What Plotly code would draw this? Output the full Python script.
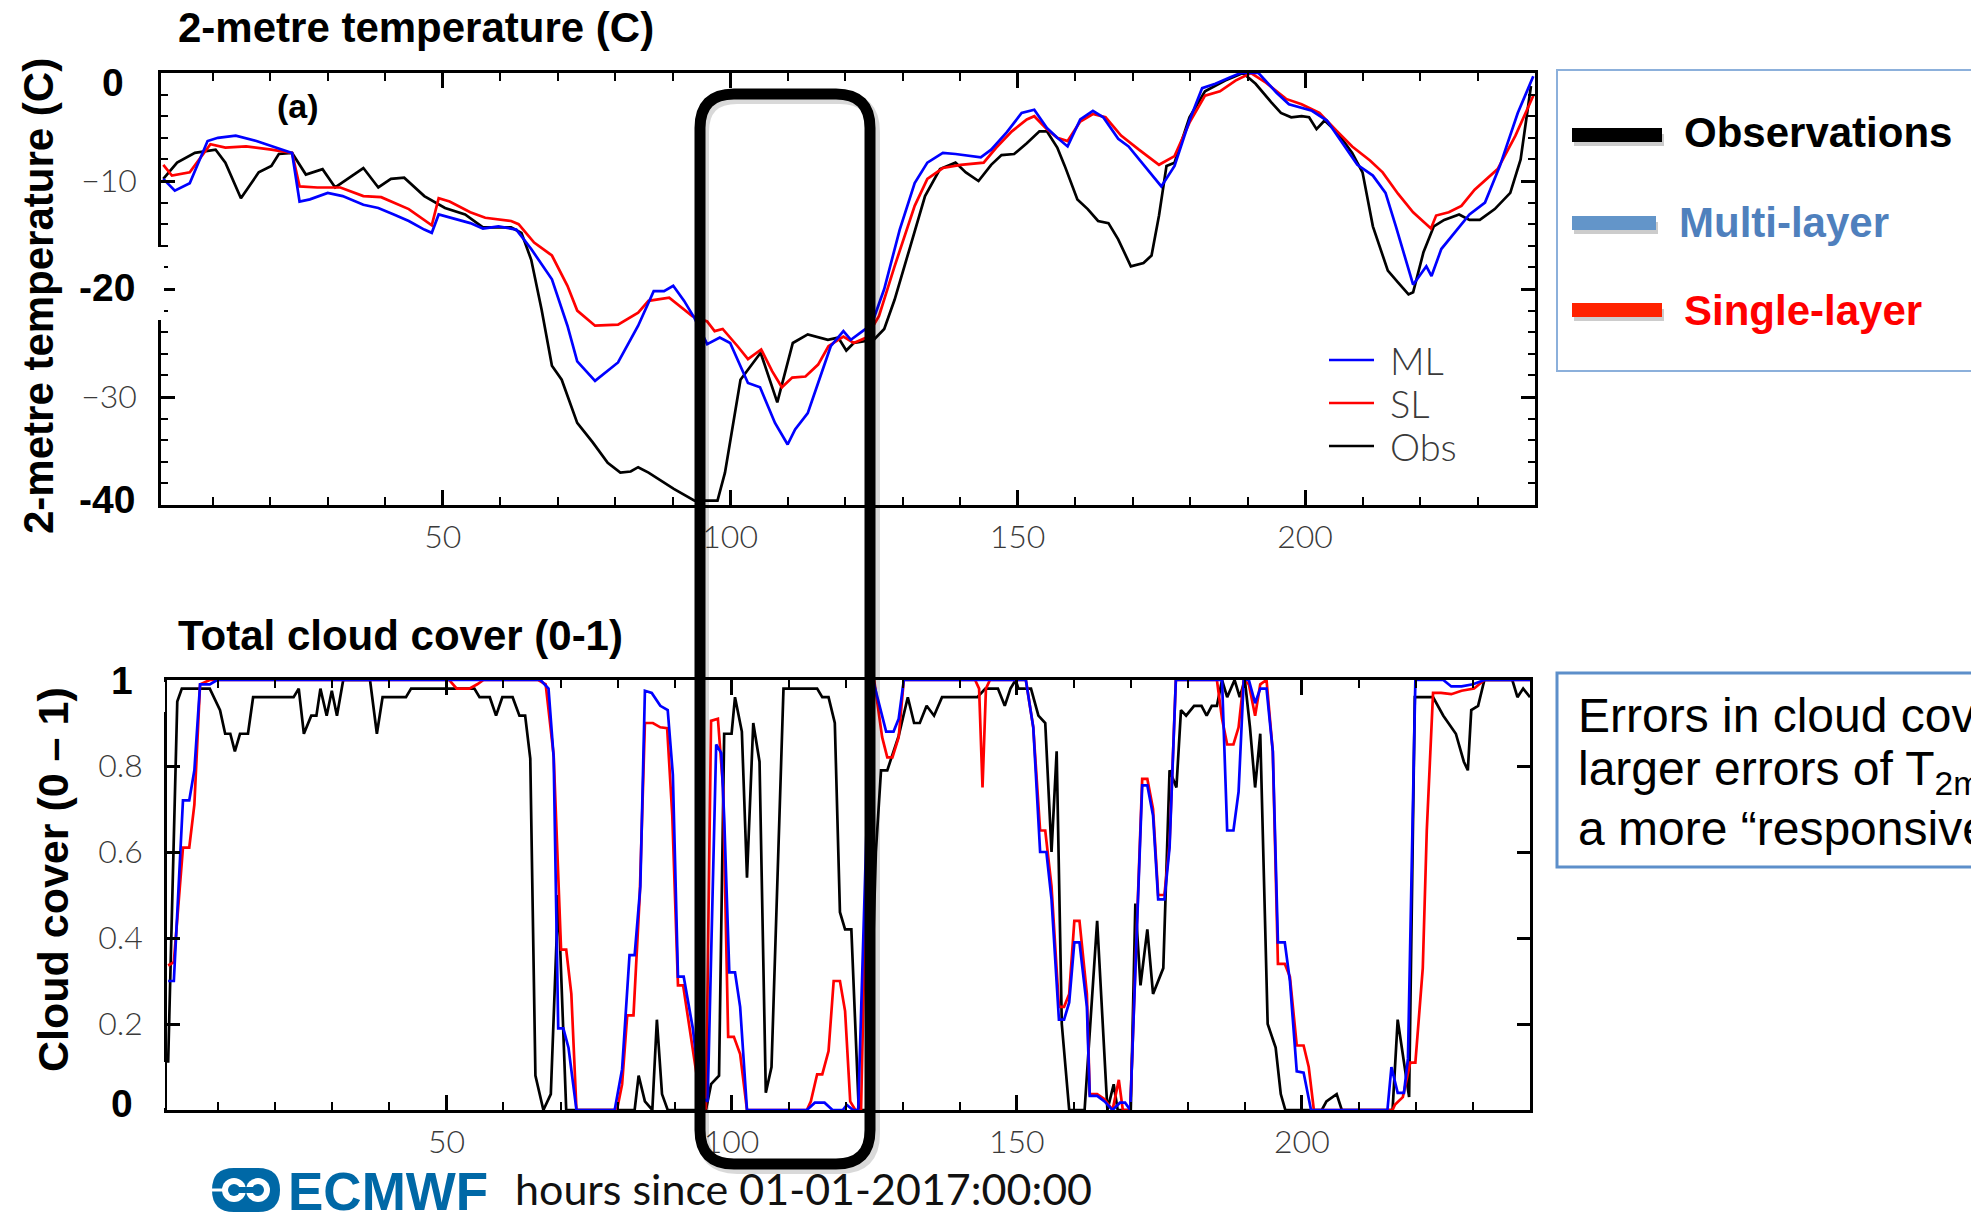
import plotly.graph_objects as go

W, H = 1971, 1213

# ---------------- data: 2-metre temperature (C) ----------------
t2m_obs_hours = [1.4, 3.8, 6.9, 10.5, 12.2, 14.9, 18, 20.2, 21.5, 23.8, 26.2, 29.1, 31.3, 36.2, 38.8, 41, 43.3, 46.8,
                 50.4, 53.9, 57, 61.9, 63.7, 65.4, 67.2, 69, 70.7, 73.4, 76.1, 78.7, 80.9, 82.7, 84, 85.8, 90.2, 93.8,
                 97.8, 99.1, 101.8, 105.3, 108.2, 110.9, 113.5, 117, 118.8, 120.2, 121.5, 125, 126.8, 128.6, 131.2,
                 133.9, 136.5, 139.2, 141, 143.2, 145.4, 147.2, 149.4, 151.6, 153.8, 155.1, 156.9, 158.2, 160.4, 162.2,
                 164, 165.8, 167.5, 169.7, 171.9, 173.3, 174.6, 175.9, 177.3, 179.9, 182.6, 186.1, 189.2, 191.4, 194.1,
                 195.8, 197.6, 199.4, 200.7, 202, 203.4, 205.6, 208.2, 210, 211.8, 214.4, 216.2, 218, 218.8, 220.6,
                 222.4, 224.2, 226.8, 228.6, 230.4, 233, 235.7, 237.5, 239.3]
t2m_obs = [-9.8, -8.3, -7.4, -7.1, -8.3, -11.6, -9.2, -8.6, -7.5, -7.4, -9.4, -8.9, -10.6, -8.8, -10.6, -9.8, -9.7,
           -11.4, -12.5, -13.1, -14.3, -14.3, -14.8, -17.3, -21.9, -27.1, -28.4, -32.4, -34.2, -36.1, -37, -36.9,
           -36.5, -37, -38.5, -39.6, -39.6, -37, -28.4, -25.9, -30.5, -25, -24.2, -24.7, -24.5, -25.7, -25, -24.7,
           -23.7, -21, -16.3, -11.4, -8.9, -8.3, -9.2, -10, -8.5, -7.6, -7.5, -6.5, -5.4, -5.4, -6.9, -8.6, -11.7,
           -12.6, -13.7, -13.9, -15.4, -17.9, -17.6, -16.9, -13.2, -8.6, -8.3, -4.1, -1.7, -0.7, 0, -1, -2.7, -3.7,
           -4.1, -4, -4.1, -5.2, -4.4, -5.5, -7.4, -9.2, -14.2, -18.3, -19.4, -20.5, -20.3, -16.6, -14.2, -13.6,
           -13.1, -13.6, -13.6, -12.6, -11.1, -8, -1.2]

t2m_ml_hours = [1.4, 3.4, 6, 9.1, 10.9, 14, 17.6, 21.1, 23.8, 25.1, 26.9, 30, 32.6, 36.2, 38.8, 41.5, 44.1, 46.8, 48.1,
                49.3, 51.2, 54.8, 57, 59.7, 62.8, 65.4, 69, 71.7, 73.4, 76.5, 80.5, 84, 86.7, 88.5, 90.1, 92, 93.8, 96,
                98.2, 100, 103.1, 105.2, 107.8, 110, 111.3, 113.5, 115.3, 117.5, 119.7, 121, 122.8, 124.6, 126.8,
                129.5, 132.1, 134.3, 137, 139.2, 143.6, 145.4, 148.1, 150.7, 152.9, 155.1, 156.9, 158.7, 160.9, 163.1,
                164.9, 167.5, 169.3, 172, 175, 177.3, 179.9, 182.1, 184.4, 187, 188.8, 191.9, 195, 197.2, 199.4, 201.2,
                203.8, 206.5, 209.1, 211.8, 214, 215.8, 217.1, 218.8, 221.1, 222, 223.7, 226, 228.6, 231.3, 233.9,
                237, 239.7]
t2m_ml = [-9.8, -10.9, -10.2, -6.3, -6, -5.8, -6.3, -6.9, -7.4, -11.9, -11.7, -11.1, -11.4, -12.2, -12.5, -13.1,
          -13.7, -14.5, -14.8, -13.1, -13.4, -13.9, -14.4, -14.2, -14.5, -16.3, -19.1, -23.4, -26.7, -28.5, -26.8,
          -23.4, -20.2, -20.2, -19.7, -21.1, -22.7, -25.1, -24.5, -25, -28.7, -29.1, -32.4, -34.4, -33, -31.5, -28.7,
          -25.3, -23.9, -24.7, -24, -23.3, -20, -14.5, -10.2, -8.3, -7.4, -7.5, -7.8, -7.1, -5.5, -3.7, -3.4, -5.1,
          -6, -6.8, -4.3, -3.5, -4.1, -6.1, -6.8, -8.6, -10.5, -8.6, -4.4, -1.4, -1, -0.4, 0, 0, -1.8, -2.9, -3.2,
          -3.5, -4.4, -6.5, -8.5, -9.5, -11.1, -14.2, -16.6, -19.6, -17.9, -18.8, -16.3, -14.8, -13.1, -12, -8.6,
          -3.7, -0.3]

t2m_sl_hours = [1.4, 2.9, 6, 9.6, 12.2, 15.8, 20.2, 23.8, 25.1, 28.2, 32.2, 36.2, 39.3, 44.1, 48.1, 49.3, 51.2, 54.8,
                57.4, 61.9, 63.2, 65.9, 69, 71.7, 73.4, 76.5, 80.5, 84, 85.8, 89.4, 93.4, 96, 97.3, 98.7, 101.3, 103.1,
                105.4, 107.3, 109, 110.8, 113.1, 115.3, 117.1, 119.7, 121.5, 123.7, 125.9, 128.6, 132.1, 134.3, 137,
                140.1, 144.1, 146.3, 149, 151.6, 152.9, 155.1, 156.9, 158.7, 160.9, 163.1, 165.3, 168, 171.1, 174.6,
                177.3, 179.9, 182.6, 185.2, 187.9, 190.6, 193.2, 196.7, 199.4, 202.5, 205.6, 208.2, 211.3, 213.5,
                216.2, 218.8, 221.9, 222.8, 225, 227.2, 229.5, 233.5, 236.6, 239.7]
t2m_sl = [-8.5, -9.5, -9.2, -6.6, -6.9, -6.8, -7.1, -7.4, -10.5, -10.6, -10.6, -11.4, -11.5, -12.6, -14.1, -11.6,
          -11.9, -12.9, -13.4, -13.7, -14, -15.7, -16.9, -19.7, -22, -23.4, -23.3, -22.2, -21.1, -20.8, -22.5, -23,
          -23.9, -23.7, -25.3, -26.5, -25.6, -27.6, -29.1, -28.2, -28.1, -27, -25.3, -24.4, -25, -24.5, -22.5, -17.9,
          -12.3, -9.8, -8.8, -8.5, -8.3, -6.9, -5.4, -4.3, -4, -5.2, -6, -6.3, -4.5, -3.8, -4.1, -5.8, -7.1, -8.5,
          -7.7, -4.6, -2.1, -1.7, -0.7, 0, -0.9, -2.4, -2.9, -3.7, -5.4, -6.8, -8.1, -9.2, -11.2, -12.9, -14.4,
          -13.2, -12.9, -12.3, -10.8, -8.9, -5.8, -2.1]

# ---------------- data: total cloud cover (0-1) ----------------
tcc_obs_hours = [1.2, 2.8, 3.6, 8.5, 10.3, 11.2, 12.1, 12.9, 13.8, 15.2, 16.1, 23.2, 24.1, 25, 26.3, 27.2, 27.9, 29,
                 29.9, 30.8, 31.9, 36.6, 37.8, 38.8, 42.9, 43.8, 54.9, 55.8, 57.6, 58.7, 59.8, 61.6, 62.8, 63.8, 64.7,
                 65.6, 67, 68.3, 69.6, 71, 83, 83.7, 84.8, 86.1, 86.9, 87.8, 88.8, 95.5, 96.4, 97.8, 98.7, 100, 100.6,
                 101.8, 102.7, 103.8, 104.9, 106, 107, 109.1, 115, 115.9, 117, 118.1, 119, 119.9, 121, 122.3, 124,
                 125.3, 126.2, 127.3, 129.3, 130.9, 132, 133, 134.2, 135.5, 136.9, 143.1, 144.5, 146.7, 147.9, 148.9,
                 149.8, 150.3, 152.5, 153.8, 155, 156.1, 157, 157.9, 159.2, 161.9, 164.1, 165.9, 167, 167.7, 170, 170.8,
                 171.7, 172.9, 173.9, 175.7, 176.8, 178, 178.8, 179.7, 181.1, 182.4, 183.3, 184.2, 185.1, 186, 186.9,
                 188.2, 189.1, 190, 190.9, 191.8, 192.7, 194, 195.4, 196.3, 197.1, 203.5, 204.3, 206.1, 207, 215.9,
                 216.8, 218.1, 218.8, 219.8, 223, 224.8, 227, 228.4, 229.1, 229.7, 230.9, 232, 236.9, 237.8, 238.8,
                 240]
tcc_obs = [0.11, 0.95, 0.98, 0.98, 0.93, 0.875, 0.875, 0.834, 0.875, 0.875, 0.96, 0.96, 0.98, 0.875, 0.917, 0.917,
           0.98, 0.917, 0.975, 0.917, 1, 1, 0.875, 0.96, 0.96, 0.98, 0.98, 0.96, 0.96, 0.917, 0.96, 0.96, 0.917, 0.917,
           0.817, 0.08, 0, 0.037, 0.5, 0, 0, 0.08, 0.02, 0, 0.21, 0.037, 0, 0, 0.06, 0.08, 0.875, 0.875, 0.96, 0.88,
           0.54, 0.9, 0.81, 0.04, 0.1, 0.98, 0.98, 0.96, 0.96, 0.9, 0.46, 0.42, 0.42, 0, 0, 0.6, 0.79, 0.79, 0.87,
           0.96, 0.9, 0.9, 0.94, 0.917, 0.96, 0.96, 0.98, 0.98, 0.94, 0.98, 1, 0.98, 0.98, 0.917, 0.9, 0.6, 0.834,
           0.2, 0, 0, 0.44, 0, 0.06, 0, 0, 0.48, 0.29, 0.42, 0.27, 0.33, 0.79, 0.75, 0.93, 0.917, 0.94, 0.94, 0.917,
           0.94, 0.94, 1, 0.96, 1, 0.96, 1, 0.89, 0.75, 0.875, 0.2, 0.145, 0.037, 0, 0, 0.02, 0.037, 0, 0, 0.21, 0.1,
           0.03, 0.96, 0.96, 0.917, 0.875, 0.81, 0.79, 0.93, 0.94, 1, 1, 0.96, 0.98, 0.96]

tcc_ml_hours = [1.2, 2.2, 3.8, 4.9, 5.8, 6.8, 8.5, 9.8, 66.5, 67.9, 68.8, 69.6, 70.5, 71.4, 72.8, 79.5, 80.8, 82.1, 83,
                84, 84.8, 86, 87.5, 88.8, 89.7, 90.6, 91.6, 93.2, 94.6, 95.8, 97.3, 98.2, 98.7, 99.6, 100.6, 101.5,
                102.7, 113.2, 114.6, 116.3, 117.7, 119.5, 120.2, 121.3, 122.2, 123.9, 124.8, 126.2, 127.1, 128.4,
                129.3, 130.2, 151.6, 152.9, 154.1, 155.2, 156.1, 157.4, 158.3, 159.2, 160.1, 161, 162.3, 162.8, 164.1,
                165.4, 166.8, 168.1, 169, 169.9, 171.3, 172, 172.9, 173.9, 174.8, 175.9, 176.8, 177.9, 186, 186.9, 188,
                188.9, 189.8, 190.7, 191.8, 192.7, 193.8, 194.9, 195.8, 197, 197.9, 199.1, 200.3, 201.6, 215, 215.7,
                216.8, 217.9, 218.6, 219.9, 224.8, 226.2, 228, 230, 232, 240]
tcc_ml = [0.3, 0.3, 0.72, 0.72, 0.79, 0.99, 0.99, 1, 1, 0.98, 0.82, 0.19, 0.19, 0.145, 0, 0, 0.095, 0.36, 0.36, 0.52,
          0.975, 0.97, 0.94, 0.93, 0.78, 0.31, 0.31, 0.19, 0.03, 0.02, 0.85, 0.83, 0.68, 0.32, 0.32, 0.24, 0, 0, 0.017,
          0.017, 0, 0, 0.012, 0, 0, 0.76, 1, 0.93, 0.88, 0.88, 0.91, 1, 1, 0.89, 0.6, 0.6, 0.49, 0.21, 0.21, 0.25,
          0.39, 0.39, 0.24, 0.033, 0.033, 0.02, 0, 0.017, 0.017, 0, 0.51, 0.755, 0.755, 0.685, 0.49, 0.49, 0.61, 1, 1,
          0.65, 0.65, 0.74, 1, 1, 0.946, 0.98, 0.98, 0.834, 0.39, 0.39, 0.3, 0.09, 0.087, 0, 0, 0.1, 0.04, 0.04, 0.12,
          1, 1, 0.985, 0.985, 0.99, 1, 1]

tcc_sl_hours = [1.2, 2.2, 3.8, 4.9, 5.8, 6.8, 8.5, 49.6, 50.5, 51.8, 54, 55.4, 56.5, 66.1, 67.4, 68.8, 70.1, 71, 71.9,
                72.8, 79.9, 80.8, 81.7, 82.8, 83.9, 84.8, 86.2, 87.5, 88.7, 89.6, 90.6, 91.5, 93.2, 94.8, 95.5, 96.4,
                97.6, 98.5, 99.4, 100.4, 101.5, 102.7, 113.2, 113.9, 115, 115.9, 117, 117.9, 119, 119.9, 120.8, 121.7,
                122.7, 123.9, 125, 126.4, 127.3, 128.2, 129.3, 130.2, 142.7, 143.4, 144, 144.6, 145.3, 151.6, 152.9,
                154.1, 155, 156.1, 157.4, 158.3, 159.2, 160.1, 161, 162.3, 162.8, 164.1, 165.4, 166.8, 167.9, 168.6,
                169.9, 171.3, 172, 172.9, 173.9, 174.8, 175.9, 176.8, 177.9, 185.1, 186, 186.9, 188, 188.9, 189.8,
                190.7, 191.8, 192.7, 193.8, 194.9, 195.8, 197, 197.9, 199.1, 200.3, 201.2, 202.1, 215.9, 216.3, 217.7,
                219, 219.9, 221.2, 221.9, 223, 224.4, 226.2, 228, 230.2, 232, 240]
tcc_sl = [0.336, 0.344, 0.61, 0.61, 0.71, 0.99, 1, 1, 1, 0.98, 0.98, 0.99, 1, 1, 0.99, 0.825, 0.373, 0.373, 0.27, 0,
          0, 0.06, 0.22, 0.22, 0.5, 0.9, 0.9, 0.89, 0.888, 0.685, 0.29, 0.29, 0.145, 0, 0.004, 0.905, 0.91, 0.75,
          0.17, 0.17, 0.13, 0, 0, 0.02, 0.083, 0.083, 0.137, 0.3, 0.3, 0.23, 0.02, 0, 0, 0.734, 1, 0.867, 0.82, 0.82,
          0.867, 1, 1, 0.98, 0.75, 0.98, 1, 1, 0.89, 0.65, 0.65, 0.52, 0.24, 0.24, 0.27, 0.44, 0.44, 0.27, 0.037,
          0.037, 0.025, 0, 0.07, 0, 0, 0.52, 0.77, 0.77, 0.7, 0.5, 0.5, 0.62, 1, 1, 0.91, 0.85, 0.85, 0.89, 1, 0.99,
          0.917, 0.99, 1, 0.834, 0.34, 0.34, 0.31, 0.15, 0.15, 0.1, 0, 0, 0.012, 0.03, 0.11, 0.11, 0.33, 0.65, 0.97,
          0.97, 0.967, 0.975, 0.98, 1, 1]

# axis tick labels
x_tickvals = [50, 100, 150, 200]
x_ticktext = ["50", "100", "150", "200"]
t_tickvals = [-40, -30, -20, -10, 0]
t_ticktext = ["", "\u221230", "", "\u221210", ""]
c_tickvals = [0, 0.2, 0.4, 0.6, 0.8, 1]
c_ticktext = ["", "0.2", "0.4", "0.6", "0.8", ""]

# inner legend entries (top panel)
legend_names = ["ML", "SL", "Obs"]
legend_colors = ["#0000ff", "#ff0000", "black"]


# ---------------- helpers (pixel -> paper) ----------------
def X(px):
    return px / W


def Y(py):
    return 1 - py / H


THIN = "Lato, Liberation Sans, Arial, sans-serif"
BOLD = "Liberation Sans, Arial, sans-serif"
GRAY = "#3a3a3a"

fig = go.Figure()

LW = 2.7
series_top = [("Obs", t2m_obs_hours, t2m_obs, "black"), ("SL", t2m_sl_hours, t2m_sl, "#ff0000"),
              ("ML", t2m_ml_hours, t2m_ml, "#0000ff")]
series_bot = [("Obs", tcc_obs_hours, tcc_obs, "black"), ("SL", tcc_sl_hours, tcc_sl, "#ff0000"),
              ("ML", tcc_ml_hours, tcc_ml, "#0000ff")]
for name, xs, ys, col in series_top:
    fig.add_trace(go.Scatter(x=xs, y=ys, mode="lines", name=name, showlegend=False,
                             line=dict(color=col, width=LW), xaxis="x", yaxis="y"))
for name, xs, ys, col in series_bot:
    fig.add_trace(go.Scatter(x=xs, y=ys, mode="lines", name=name, showlegend=False,
                             line=dict(color=col, width=LW), xaxis="x2", yaxis="y2"))

tickfont = dict(family=THIN, size=32, color=GRAY, weight=300)

common_x = dict(range=[1, 240], showline=True, linecolor="black", linewidth=2.5, mirror="ticks",
                ticks="inside", ticklen=15, tickwidth=2.5, tickcolor="black", automargin=False,
                tickvals=x_tickvals, ticktext=x_ticktext, tickfont=tickfont,
                showgrid=False, zeroline=False, ticklabelstandoff=2,
                minor=dict(ticks="inside", ticklen=8, tickwidth=1.5, tickcolor="black", dtick=10, tick0=0,
                           showgrid=False))

fig.update_layout(
    width=W, height=H, margin=dict(l=0, r=0, t=0, b=0, pad=0, autoexpand=False),
    paper_bgcolor="white", plot_bgcolor="white", showlegend=False,
    xaxis=dict(domain=[X(161), X(1535)], anchor="y", **common_x),
    yaxis=dict(domain=[Y(505), Y(73)], anchor="x", range=[-40, 0], showline=True, linecolor="black",
               linewidth=2.5, mirror="ticks", ticks="inside", ticklen=14, tickwidth=2.5, tickcolor="black",
               tickvals=t_tickvals, ticktext=t_ticktext, tickfont=tickfont, showgrid=False, zeroline=False,
               ticklabelstandoff=15, automargin=False,
               minor=dict(ticks="inside", ticklen=7, tickwidth=1.5, tickcolor="black", dtick=2, tick0=0,
                          showgrid=False)),
    xaxis2=dict(domain=[X(167), X(1530)], anchor="y2", **common_x),
    yaxis2=dict(domain=[Y(1110), Y(680)], anchor="x2", range=[0, 1], showline=True, linecolor="black",
                linewidth=2.5, mirror="ticks", ticks="inside", ticklen=13, tickwidth=2.5, tickcolor="black",
                tickvals=c_tickvals, ticktext=c_ticktext, tickfont=tickfont, showgrid=False, zeroline=False,
                ticklabelstandoff=15, automargin=False),
)

shapes = []
# white patches covering parts of the left axis lines (behind the bold overlay labels)
shapes.append(dict(type="rect", xref="paper", yref="paper", x0=X(70), x1=X(164), y0=Y(320), y1=Y(247),
                   fillcolor="white", line=dict(width=0), layer="above"))
shapes.append(dict(type="rect", xref="paper", yref="paper", x0=X(70), x1=X(165), y0=Y(712), y1=Y(682),
                   fillcolor="white", line=dict(width=0), layer="above"))
shapes.append(dict(type="rect", xref="paper", yref="paper", x0=X(70), x1=X(165), y0=Y(1108), y1=Y(1062),
                   fillcolor="white", line=dict(width=0), layer="above"))

# inner legend line samples
legend_y = [360, 403, 446]
for yy, col in zip(legend_y, legend_colors):
    shapes.append(dict(type="line", xref="paper", yref="paper", x0=X(1329), x1=X(1374), y0=Y(yy), y1=Y(yy),
                       line=dict(color=col, width=LW)))


def rounded_path(x0, y0, x1, y1, r):
    return (f"M {X(x0 + r)},{Y(y0)} L {X(x1 - r)},{Y(y0)} Q {X(x1)},{Y(y0)} {X(x1)},{Y(y0 + r)} "
            f"L {X(x1)},{Y(y1 - r)} Q {X(x1)},{Y(y1)} {X(x1 - r)},{Y(y1)} "
            f"L {X(x0 + r)},{Y(y1)} Q {X(x0)},{Y(y1)} {X(x0)},{Y(y1 - r)} "
            f"L {X(x0)},{Y(y0 + r)} Q {X(x0)},{Y(y0)} {X(x0 + r)},{Y(y0)} Z")


# shadow + black highlight box
shapes.append(dict(type="path", xref="paper", yref="paper", path=rounded_path(703, 98, 874, 1168, 34),
                   line=dict(color="rgba(0,0,0,0.15)", width=12), layer="above"))
shapes.append(dict(type="path", xref="paper", yref="paper", path=rounded_path(700, 94, 870, 1164, 34),
                   line=dict(color="black", width=11), layer="above"))

# right-hand legend box
shapes.append(dict(type="rect", xref="paper", yref="paper", x0=X(1557), x1=X(2010), y0=Y(371), y1=Y(70),
                   line=dict(color="#8cb0db", width=2), fillcolor="rgba(0,0,0,0)"))
for (yy, col, xe) in [(135, "black", 1662), (223, "#6395c9", 1656), (310, "#ff2200", 1662)]:
    shapes.append(dict(type="line", xref="paper", yref="paper", x0=X(1574), x1=X(xe + 2), y0=Y(yy + 5),
                       y1=Y(yy + 5), line=dict(color="rgba(0,0,0,0.2)", width=12)))
    shapes.append(dict(type="line", xref="paper", yref="paper", x0=X(1572), x1=X(xe), y0=Y(yy), y1=Y(yy),
                       line=dict(color=col, width=14)))

# text box bottom right
shapes.append(dict(type="rect", xref="paper", yref="paper", x0=X(1557), x1=X(2010), y0=Y(867), y1=Y(673),
                   line=dict(color="#5d8fca", width=3), fillcolor="rgba(0,0,0,0)"))

# ECMWF logo mark
LB = "#0068a6"
shapes.append(dict(type="path", xref="paper", yref="paper", path=rounded_path(212, 1168, 280, 1212, 22),
                   fillcolor=LB, line=dict(width=0)))
for cx in (234, 258):
    shapes.append(dict(type="circle", xref="paper", yref="paper", x0=X(cx - 12), x1=X(cx + 12),
                       y0=Y(1202), y1=Y(1178), fillcolor="white", line=dict(width=0)))
    shapes.append(dict(type="circle", xref="paper", yref="paper", x0=X(cx - 6), x1=X(cx + 6),
                       y0=Y(1196), y1=Y(1184), fillcolor=LB, line=dict(width=0)))
shapes.append(dict(type="rect", xref="paper", yref="paper", x0=X(234), x1=X(258), y0=Y(1193), y1=Y(1187),
                   fillcolor=LB, line=dict(width=0)))
shapes.append(dict(type="line", xref="paper", yref="paper", x0=X(212), x1=X(228), y0=Y(1190), y1=Y(1190),
                   line=dict(color="white", width=3)))
fig.update_layout(shapes=shapes)

ann = []


def txt(s, x, y, size, family=BOLD, color="black", xanchor="center", bold=False, angle=0, weight=None):
    f = dict(family=family, size=size, color=color)
    if weight is not None:
        f["weight"] = weight
    ann.append(dict(text=(f"<b>{s}</b>" if bold else s), x=X(x), y=Y(y), xref="paper", yref="paper",
                    showarrow=False, xanchor=xanchor, yanchor="middle", font=f, textangle=angle))


txt("2-metre temperature (C)", 176, 28, 42, bold=True, xanchor="left")
txt("Total cloud cover (0-1)", 176, 635, 42, bold=True, xanchor="left")
txt("2-metre temperature (C)", 38, 296, 42, bold=True, angle=-90)
txt("Cloud cover (0 \u2013 1)", 53, 880, 43, bold=True, angle=-90)
txt("(a)", 298, 106, 34, bold=True)
# bold overlay tick labels
txt("0", 113, 83, 39, bold=True)
txt("-20", 107, 287, 39, bold=True)
txt("-40", 107, 499, 39, bold=True)
txt("1", 122, 680, 39, bold=True)
txt("0", 122, 1103, 39, bold=True)
# inner legend labels
for yy, nm in zip(legend_y, legend_names):
    txt(nm, 1388, yy, 38, family=THIN, color=GRAY, xanchor="left", weight=300)
# right legend texts
txt("Observations", 1682, 133, 42, bold=True, xanchor="left")
txt("Multi-layer", 1677, 222, 42, bold=True, xanchor="left", color="#4f80bd")
txt("Single-layer", 1682, 310, 42, bold=True, xanchor="left", color="#ff0000")
# text box
txt("Errors in cloud cover", 1576, 715, 48, xanchor="left")
txt("larger errors of T<sub>2m</sub>", 1576, 772, 48, xanchor="left")
txt("a more \u201cresponsive\u201d", 1576, 828, 48, xanchor="left")
# x axis caption and logo text
txt("hours since 01-01-2017:00:00", 803, 1188, 43, family=THIN, color="#111")
txt("ECMWF", 286, 1191, 53, color=LB, bold=True, xanchor="left")
fig.update_layout(annotations=ann)

fig.write_html("out.html")
